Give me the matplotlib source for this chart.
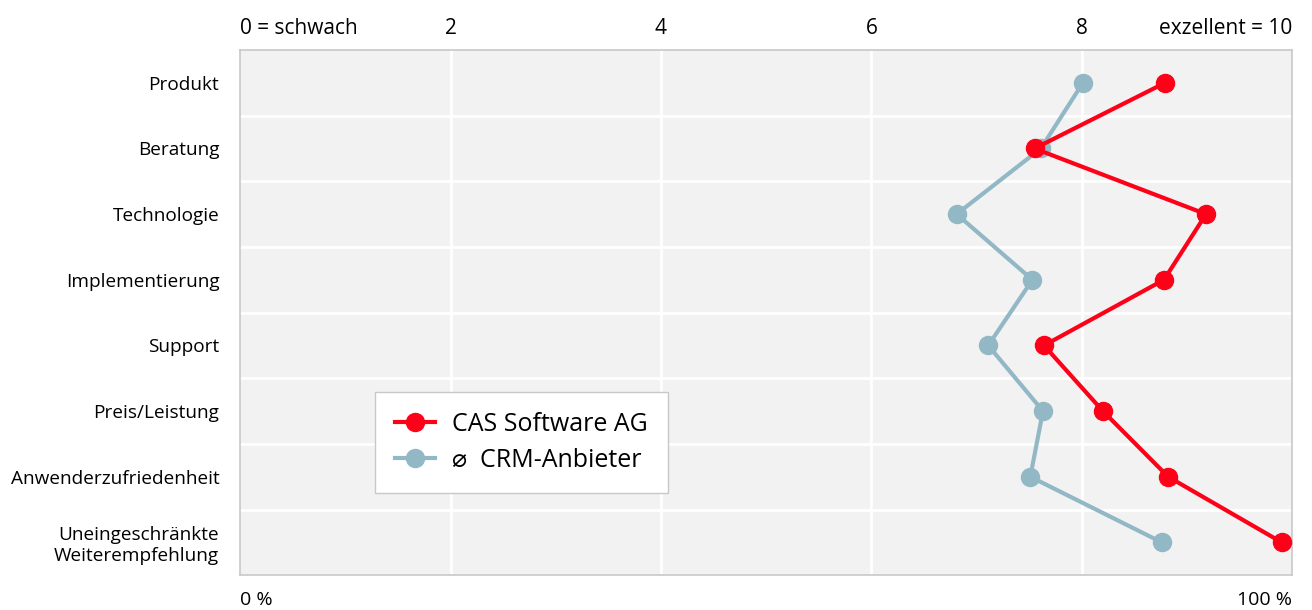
import numpy as np
import matplotlib
matplotlib.use("Agg")
import matplotlib.pyplot as plt

# ── Data ──────────────────────────────────────────────────────────────────────
categories = ["Produkt", "Beratung", "Technologie", "Implementierung", "Support",
              "Preis/Leistung", "Anwenderzufriedenheit",
              "Uneingeschränkte\nWeiterempfehlung"]
cas_values = [8.79, 7.55, 9.18, 8.78, 7.64, 8.20, 8.82, 9.90]
crm_values = [8.01, 7.61, 6.81, 7.53, 7.11, 7.63, 7.51, 8.76]
top_ticks  = [0, 2, 4, 6, 8, 10]
top_labels = ["0 = schwach", "2", "4", "6", "8", "exzellent = 10"]
series_names = ["CAS Software AG", "\u2300  CRM-Anbieter"]

RED  = "#ff0019"
BLUE = "#93b8c5"

plt.rcParams["font.family"] = ["Open Sans", "DejaVu Sans"]

# ── Plot ──────────────────────────────────────────────────────────────────────
fig = plt.figure(figsize=(13.12, 6.10), dpi=100)
ax = fig.add_axes([0.183, 0.057, 0.802, 0.861])
ax.set_facecolor("#f2f2f2")

n = len(categories)
ypos = np.arange(n) + 0.5

ax.plot(cas_values, ypos, "-o", color=RED, lw=3, ms=13, label=series_names[0], zorder=4)
ax.plot(crm_values, ypos, "-o", color=BLUE, lw=3, ms=13, label=series_names[1], zorder=3)

ax.set_xlim(0, 10)
ax.set_ylim(n, 0)

# grid
for x in [2, 4, 6, 8]:
    ax.axvline(x, color="white", lw=2, zorder=1)
for y in range(1, n):
    ax.axhline(y, color="white", lw=2, zorder=1)

for s in ax.spines.values():
    s.set_color("#c8c8c8")
    s.set_linewidth(1.2)

# top ticks
ax.xaxis.tick_top()
ax.set_xticks(top_ticks)
ax.set_xticklabels(top_labels, fontsize=15)
ax.tick_params(axis="x", length=0, pad=8)
lbls = ax.get_xticklabels()
lbls[0].set_horizontalalignment("left")
lbls[-1].set_horizontalalignment("right")

ax.set_yticks(ypos)
ax.set_yticklabels(categories, fontsize=13.7, linespacing=1.15)
ax.tick_params(axis="y", length=0, pad=15)

# bottom labels
ax.text(0, -0.048, "0 %", transform=ax.transAxes, ha="left", va="center", fontsize=14)
ax.text(1, -0.048, "100 %", transform=ax.transAxes, ha="right", va="center", fontsize=14)

leg = ax.legend(loc="upper left", bbox_to_anchor=(0.128, 0.349), fontsize=18,
                frameon=True, fancybox=False, handlelength=1.6, borderpad=0.8,
                labelspacing=0.45, handletextpad=0.7, borderaxespad=0)
leg.get_frame().set_edgecolor("#c8c8c8")
leg.get_frame().set_facecolor("white")
leg.get_frame().set_alpha(1)

plt.savefig("out.png", dpi=100)
